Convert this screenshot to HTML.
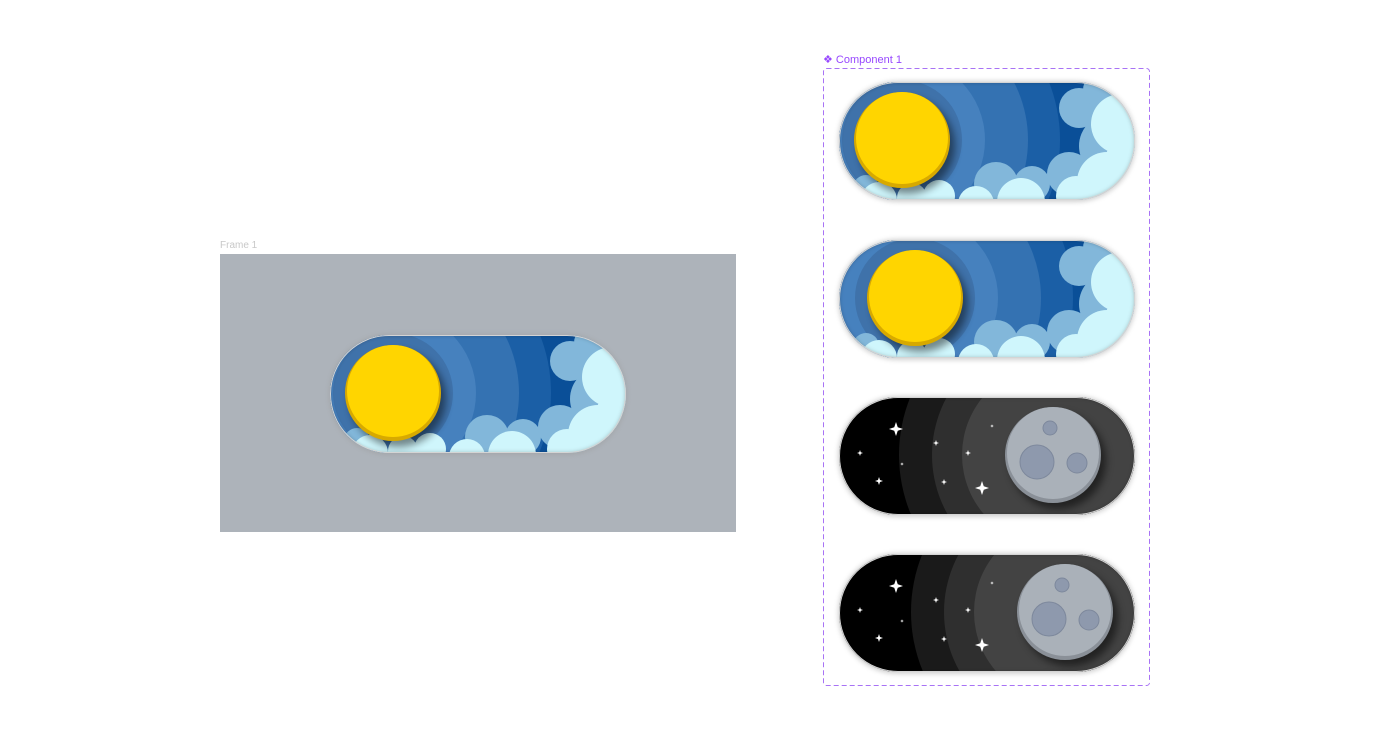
<!DOCTYPE html>
<html><head><meta charset="utf-8">
<style>
html,body{margin:0;padding:0;background:#fff;width:1379px;height:751px;overflow:hidden;font-family:"Liberation Sans",sans-serif;}
.abs{position:absolute;}
</style></head>
<body>
<div class="abs" style="left:220px;top:240px;font-size:10px;color:#c8c8c8;">Frame 1</div>
<div class="abs" style="left:220px;top:254px;width:516px;height:278px;background:#adb3ba;"></div>
<div class="abs" style="left:823px;top:53px;font-size:11px;color:#9747ff;">❖ Component 1</div>
<svg class="abs" style="left:822px;top:67px" width="330" height="621"><rect x="1.5" y="1.5" width="326" height="617" rx="3" fill="none" stroke="#a873f5" stroke-width="1" stroke-dasharray="5 3"/></svg>
<svg class="abs" id="art" style="left:0;top:0" width="1379" height="751"></svg>
<script>
const toggleXs=[330,839,839,839,839];
const toggleYs=[335,82,240,397,554];
const toggleKinds=['day','day','day','night','night'];
const knobOffsets=[0,0,13,0,12];
const starsX=[57,21,40,63,97,129,105,143,153];
const starsY=[32,56,84,67,46,56,85,91,29];
const starsR=[7,3,4,1.8,3,3,3,7,1.8];
function stars(){let s='';for(let i=0;i<starsX.length;i++){const x=starsX[i],y=starsY[i],r=starsR[i],k=r*0.25;
s+=`<path d="M${x} ${y-r}L${x+k} ${y-k}L${x+r} ${y}L${x+k} ${y+k}L${x} ${y+r}L${x-k} ${y+k}L${x-r} ${y}L${x-k} ${y-k}Z" fill="#fff"/>`;}return s;}
function day(o){const cx=63+o,cy=58;
return `<rect width="296" height="118" fill="#0a4f98"/>
<circle cx="${cx}" cy="${cy}" r="158" fill="#1b5fa6"/><circle cx="${cx}" cy="${cy}" r="126" fill="#3472b2"/>
<circle cx="${cx}" cy="${cy}" r="83" fill="#4681be"/><circle cx="${cx}" cy="${cy}" r="60" fill="#3f72aa"/>
<g fill="#82b7da"><circle cx="240" cy="26" r="20"/><circle cx="272" cy="64" r="32"/><circle cx="157" cy="102" r="22"/><circle cx="193" cy="102" r="18"/><circle cx="230" cy="92" r="22"/><circle cx="27" cy="106" r="13"/><circle cx="262" cy="8" r="18"/></g>
<g fill="#cff6fc"><circle cx="282" cy="42" r="30"/><circle cx="268" cy="100" r="30"/><circle cx="182" cy="120" r="24"/><circle cx="137" cy="122" r="18"/><circle cx="237" cy="114" r="20"/><circle cx="100" cy="114" r="16"/><circle cx="40" cy="118" r="18"/><circle cx="73" cy="116" r="15"/><circle cx="294" cy="80" r="28"/></g>
<circle cx="${cx+5}" cy="${cy+6}" r="48" fill="#000" opacity="0.45" filter="url(#blur)"/>
<circle cx="${cx}" cy="${cy}" r="48" fill="#d7a900"/><circle cx="${cx}" cy="${cy-2}" r="46" fill="#ffd500"/>`;}
function night(o){const cx=214+o,cy=58;
return `<rect width="296" height="118" fill="#000"/>
<circle cx="${cx}" cy="${cy}" r="154" fill="#1a1a1a"/><circle cx="${cx}" cy="${cy}" r="121" fill="#2f2f2f"/><circle cx="${cx}" cy="${cy}" r="91" fill="#434343"/>
${stars()}
<circle cx="${cx+5}" cy="${cy+6}" r="48" fill="#000" opacity="0.5" filter="url(#blur)"/>
<circle cx="${cx}" cy="${cy}" r="48" fill="#8a9098"/><circle cx="${cx}" cy="${cy-2}" r="46" fill="#aab1b9"/>
<g fill="#8e99ad" stroke="#7d889c" stroke-width="1"><circle cx="${cx-3}" cy="${cy-27}" r="7"/><circle cx="${cx-16}" cy="${cy+7}" r="17"/><circle cx="${cx+24}" cy="${cy+8}" r="10"/></g>`;}
const svg=document.getElementById('art');
let html='<defs><filter id="blur" x="-50%" y="-50%" width="200%" height="200%"><feGaussianBlur stdDeviation="4"/></filter><filter id="sh" x="-10%" y="-20%" width="120%" height="140%"><feGaussianBlur stdDeviation="2.5"/></filter><clipPath id="cp"><rect width="296" height="118" rx="59"/></clipPath></defs>';
for(let i=0;i<toggleXs.length;i++){
html+=`<g transform="translate(${toggleXs[i]},${toggleYs[i]})" id="t${i}">
<rect x="-1" y="-1" width="298" height="121" rx="60" fill="#9a9a9a" opacity="0.45" filter="url(#sh)"/>
<g clip-path="url(#cp)">${toggleKinds[i]==='day'?day(knobOffsets[i]):night(knobOffsets[i])}
<rect x="-3" y="-3" width="302" height="124" rx="62" fill="none" stroke="#000" stroke-opacity="0.3" stroke-width="6" filter="url(#sh)"/></g>
<rect x="0.5" y="0.5" width="295" height="117" rx="58.5" fill="none" stroke="#d4d4d4" stroke-width="1"/></g>`;}
svg.innerHTML=html;
for(let i=0;i<toggleXs.length;i++){const g=document.getElementById('t'+i);

}
</script>
</body></html>
